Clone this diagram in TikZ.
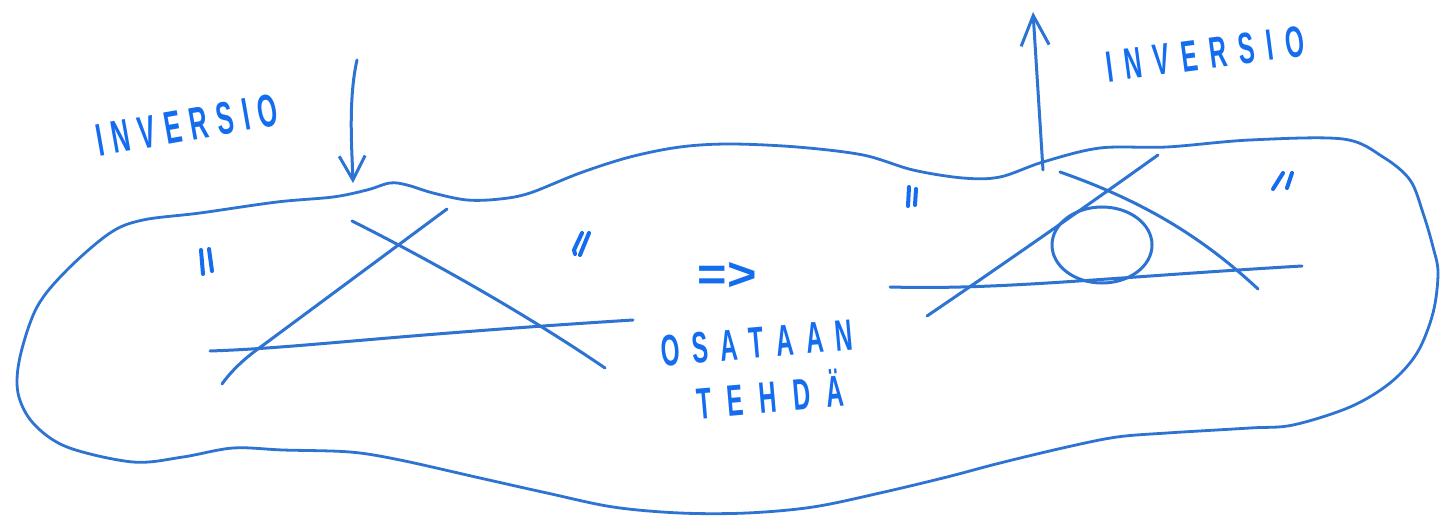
\documentclass[tikz,border=0pt]{standalone}
\usepackage{fontspec}
\setmainfont{Liberation Sans}
\usetikzlibrary{arrows.meta}
\definecolor{pen}{RGB}{45,115,210}
\definecolor{ink}{RGB}{20,108,238}
\newcommand\nchr[1]{\scalebox{0.55}[1]{#1}}
\newcommand\gp{\hspace{9pt}}
\newcommand\gq{\hspace{12pt}}
\newcommand\gr{\hspace{16pt}}
\tikzset{
  outline/.style={draw=pen, line width=2.8pt, line cap=round, line join=round},
  figline/.style={draw=pen, line width=3pt, line cap=round},
  ditto/.style={draw=ink, line width=4pt, line cap=round},
  label/.style={text=ink, inner sep=0pt},
  arr/.style={draw=pen, line width=3pt, line cap=round}
}
\begin{document}
\begin{tikzpicture}[x=1pt,y=-1pt]
\useasboundingbox (0,0) rectangle (1455,529);
\fill[white] (0,0) rectangle (1455,529);

% blob outline
\draw[outline] plot[smooth cycle, tension=0.55] coordinates {
(20,357) (37,307) (67,270) (110,233) (143,220) (200,213) (277,202) (333,197)
(367,190) (390,183) (407,185) (433,193) (467,200) (500,199) (530,193) (580,173)
(630,157) (680,147) (730,144) (797,147) (863,155) (913,170) (963,178) (1000,177)
(1043,162) (1100,148) (1167,147) (1250,140) (1343,139) (1383,157) (1410,180)
(1423,213) (1433,247) (1438,273) (1433,313) (1417,353) (1390,383) (1350,407)
(1293,425) (1250,428) (1167,433) (1117,437) (1067,447) (1000,463) (947,477)
(880,493) (813,507) (747,513) (680,513) (613,507) (547,493) (480,478) (400,460)
(350,452) (283,450) (233,448) (183,457) (133,462) (67,447) (33,423) (18,393)};

% left figure: three lines
\draw[figline] (222,384) .. controls (232,370) and (245,358) .. (262,346) -- (447,209);
\draw[figline] (352,221) .. controls (420,255) and (520,310) .. (605,368);
\draw[figline] (210,351) .. controls (300,348) and (380,336) .. (633,320);

% right figure: three lines and inscribed ellipse
\draw[figline] (927,316) .. controls (980,280) and (1060,225) .. (1158,155);
\draw[figline] (1060,172) .. controls (1140,200) and (1200,235) .. (1258,289);
\draw[figline] (890,287) .. controls (1000,290) and (1100,278) .. (1302,266);
\draw[figline] (1102,245) ellipse [x radius=50, y radius=38];

% ditto marks
\draw[ditto] (201,250) -- (203,274);
\draw[ditto] (209,249) -- (212,271);
\draw[ditto] (582,233) -- (574,250) -- (575,254);
\draw[ditto] (589,233) -- (580,255);
\draw[ditto] (909,187) -- (908,206);
\draw[ditto] (916,189) -- (915,205);
\draw[ditto] (1283,173) -- (1273,189);
\draw[ditto] (1292,173) -- (1287,188);

% arrows
\coordinate (a1s) at (357,60);
\coordinate (a1e) at (353,183);
\draw[arr, -{Straight Barb[length=24pt,width=26pt]}] (a1s) .. controls (348,100) and (352,150) .. (a1e);
\coordinate (a2s) at (1043,170);
\coordinate (a2e) at (1033,12);
\draw[arr, -{Straight Barb[length=30pt,width=28pt]}] (a2s) -- (a2e);

% labels
\node[label, rotate=10, font=\fontsize{46}{50}\selectfont\bfseries] (inv1) at (187,125)
  {\nchr{I}\gp\nchr{N}\gp\nchr{V}\gp\nchr{E}\gp\nchr{R}\gp\nchr{S}\gp\nchr{I}\gp\nchr{O}};
\node[label, rotate=7.5, font=\fontsize{44}{48}\selectfont\bfseries] (inv2) at (1205,54)
  {\nchr{I}\gq\nchr{N}\gq\nchr{V}\gq\nchr{E}\gq\nchr{R}\gq\nchr{S}\gq\nchr{I}\gq\nchr{O}};
\node[label] (impl) at (727,276) {\resizebox{59pt}{28pt}{\bfseries =>}};
\node[label, rotate=5, font=\fontsize{44}{48}\selectfont\bfseries] (osa) at (757,343)
  {\nchr{O}\gq\nchr{S}\gq\nchr{A}\gq\nchr{T}\gq\nchr{A}\gq\nchr{A}\gq\nchr{N}};
\node[label, rotate=5, font=\fontsize{44}{48}\selectfont\bfseries] (teh) at (770,394)
  {\nchr{T}\gr\nchr{E}\gr\nchr{H}\gr\nchr{D}\gr\nchr{Ä}};
\end{tikzpicture}
\end{document}
